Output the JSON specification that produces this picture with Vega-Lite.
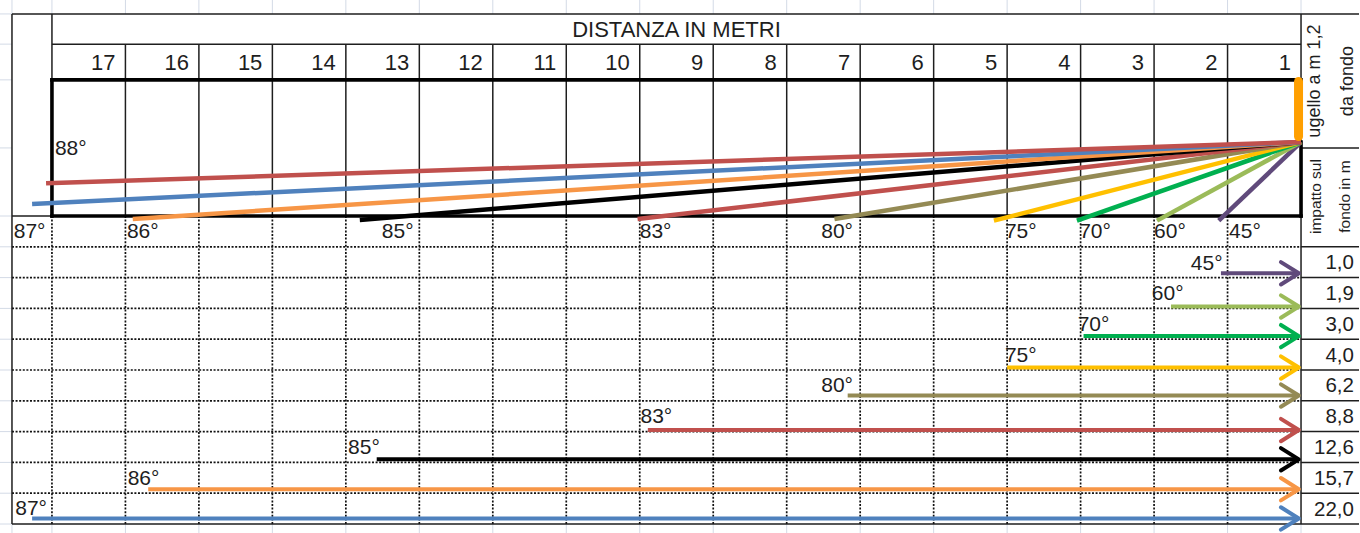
{
  "$schema": "https://vega.github.io/schema/vega-lite/v6.json",
  "width": 1360,
  "height": 533,
  "autosize": {"type": "fit", "contains": "padding"},
  "padding": 0,
  "background": "white",
  "config": {"view": {"stroke": null}, "text": {"font": "Liberation Sans", "fill": "#1e1e1e"}},
  "datasets": {
    "grid": [
      {"k":"faint","x":17.707,"x2":17.544,"y":16.56,"y2":16.56},
      {"k":"faint","x":17.707,"x2":17.544,"y":15.58,"y2":15.58},
      {"k":"faint","x":17.707,"x2":17.544,"y":14.42,"y2":14.42},
      {"k":"faint","x":17.707,"x2":17.544,"y":12.21,"y2":12.21},
      {"k":"faint","x":17.707,"x2":17.544,"y":10,"y2":10},
      {"k":"faint","x":17.707,"x2":17.544,"y":9,"y2":9},
      {"k":"faint","x":17.707,"x2":17.544,"y":8,"y2":8},
      {"k":"faint","x":17.707,"x2":17.544,"y":7,"y2":7},
      {"k":"faint","x":17.707,"x2":17.544,"y":6,"y2":6},
      {"k":"faint","x":17.707,"x2":17.544,"y":5,"y2":5},
      {"k":"faint","x":17.707,"x2":17.544,"y":4,"y2":4},
      {"k":"faint","x":17.707,"x2":17.544,"y":3,"y2":3},
      {"k":"faint","x":17.707,"x2":17.544,"y":2,"y2":2},
      {"k":"faint","x":17.707,"x2":17.544,"y":1,"y2":1},
      {"k":"faint","x":17.707,"x2":17.544,"y":0,"y2":0},
      {"k":"faint","x":17.544,"x2":17.544,"y":17.013,"y2":16.56},
      {"k":"faint","x":17,"x2":17,"y":17.013,"y2":16.56},
      {"k":"faint","x":16,"x2":16,"y":17.013,"y2":16.56},
      {"k":"faint","x":15,"x2":15,"y":17.013,"y2":16.56},
      {"k":"faint","x":14,"x2":14,"y":17.013,"y2":16.56},
      {"k":"faint","x":13,"x2":13,"y":17.013,"y2":16.56},
      {"k":"faint","x":12,"x2":12,"y":17.013,"y2":16.56},
      {"k":"faint","x":11,"x2":11,"y":17.013,"y2":16.56},
      {"k":"faint","x":10,"x2":10,"y":17.013,"y2":16.56},
      {"k":"faint","x":9,"x2":9,"y":17.013,"y2":16.56},
      {"k":"faint","x":8,"x2":8,"y":17.013,"y2":16.56},
      {"k":"faint","x":7,"x2":7,"y":17.013,"y2":16.56},
      {"k":"faint","x":6,"x2":6,"y":17.013,"y2":16.56},
      {"k":"faint","x":5,"x2":5,"y":17.013,"y2":16.56},
      {"k":"faint","x":4,"x2":4,"y":17.013,"y2":16.56},
      {"k":"faint","x":3,"x2":3,"y":17.013,"y2":16.56},
      {"k":"faint","x":2,"x2":2,"y":17.013,"y2":16.56},
      {"k":"faint","x":1,"x2":1,"y":17.013,"y2":16.56},
      {"k":"faint","x":0,"x2":0,"y":17.013,"y2":16.56},
      {"k":"faint","x":17.544,"x2":17.544,"y":0,"y2":-0.292},
      {"k":"faint","x":17,"x2":17,"y":0,"y2":-0.292},
      {"k":"faint","x":16,"x2":16,"y":0,"y2":-0.292},
      {"k":"faint","x":15,"x2":15,"y":0,"y2":-0.292},
      {"k":"faint","x":14,"x2":14,"y":0,"y2":-0.292},
      {"k":"faint","x":13,"x2":13,"y":0,"y2":-0.292},
      {"k":"faint","x":12,"x2":12,"y":0,"y2":-0.292},
      {"k":"faint","x":11,"x2":11,"y":0,"y2":-0.292},
      {"k":"faint","x":10,"x2":10,"y":0,"y2":-0.292},
      {"k":"faint","x":9,"x2":9,"y":0,"y2":-0.292},
      {"k":"faint","x":8,"x2":8,"y":0,"y2":-0.292},
      {"k":"faint","x":7,"x2":7,"y":0,"y2":-0.292},
      {"k":"faint","x":6,"x2":6,"y":0,"y2":-0.292},
      {"k":"faint","x":5,"x2":5,"y":0,"y2":-0.292},
      {"k":"faint","x":4,"x2":4,"y":0,"y2":-0.292},
      {"k":"faint","x":3,"x2":3,"y":0,"y2":-0.292},
      {"k":"faint","x":2,"x2":2,"y":0,"y2":-0.292},
      {"k":"faint","x":1,"x2":1,"y":0,"y2":-0.292},
      {"k":"faint","x":0,"x2":0,"y":0,"y2":-0.292},

      {"k":"dot","x":17.544,"x2":0,"y":9,"y2":9},
      {"k":"dot","x":17.544,"x2":0,"y":8,"y2":8},
      {"k":"dot","x":17.544,"x2":0,"y":7,"y2":7},
      {"k":"dot","x":17.544,"x2":0,"y":6,"y2":6},
      {"k":"dot","x":17.544,"x2":0,"y":5,"y2":5},
      {"k":"dot","x":17.544,"x2":0,"y":4,"y2":4},
      {"k":"dot","x":17.544,"x2":0,"y":3,"y2":3},
      {"k":"dot","x":17.544,"x2":0,"y":2,"y2":2},
      {"k":"dot","x":17.544,"x2":0,"y":1,"y2":1},
      {"k":"dot","x":17,"x2":17,"y":10,"y2":0},
      {"k":"dot","x":16,"x2":16,"y":10,"y2":0},
      {"k":"dot","x":15,"x2":15,"y":10,"y2":0},
      {"k":"dot","x":14,"x2":14,"y":10,"y2":0},
      {"k":"dot","x":13,"x2":13,"y":10,"y2":0},
      {"k":"dot","x":12,"x2":12,"y":10,"y2":0},
      {"k":"dot","x":11,"x2":11,"y":10,"y2":0},
      {"k":"dot","x":10,"x2":10,"y":10,"y2":0},
      {"k":"dot","x":9,"x2":9,"y":10,"y2":0},
      {"k":"dot","x":8,"x2":8,"y":10,"y2":0},
      {"k":"dot","x":7,"x2":7,"y":10,"y2":0},
      {"k":"dot","x":6,"x2":6,"y":10,"y2":0},
      {"k":"dot","x":5,"x2":5,"y":10,"y2":0},
      {"k":"dot","x":4,"x2":4,"y":10,"y2":0},
      {"k":"dot","x":3,"x2":3,"y":10,"y2":0},
      {"k":"dot","x":2,"x2":2,"y":10,"y2":0},
      {"k":"dot","x":1,"x2":1,"y":10,"y2":0},

      {"k":"thin","x":17.544,"x2":-0.789,"y":16.56,"y2":16.56},
      {"k":"thin","x":17,"x2":0,"y":15.58,"y2":15.58},
      {"k":"thin","x":0,"x2":-0.789,"y":12.21,"y2":12.21},
      {"k":"thin","x":17.544,"x2":17,"y":10,"y2":10},
      {"k":"thin","x":0,"x2":-0.789,"y":9,"y2":9},
      {"k":"thin","x":0,"x2":-0.789,"y":8,"y2":8},
      {"k":"thin","x":0,"x2":-0.789,"y":7,"y2":7},
      {"k":"thin","x":0,"x2":-0.789,"y":6,"y2":6},
      {"k":"thin","x":0,"x2":-0.789,"y":5,"y2":5},
      {"k":"thin","x":0,"x2":-0.789,"y":4,"y2":4},
      {"k":"thin","x":0,"x2":-0.789,"y":3,"y2":3},
      {"k":"thin","x":0,"x2":-0.789,"y":2,"y2":2},
      {"k":"thin","x":0,"x2":-0.789,"y":1,"y2":1},
      {"k":"thin","x":17.544,"x2":-0.789,"y":0,"y2":0},
      {"k":"thin","x":17.544,"x2":17.544,"y":16.56,"y2":0},
      {"k":"thin","x":17,"x2":17,"y":16.56,"y2":14.42},
      {"k":"thin","x":16,"x2":16,"y":15.58,"y2":10},
      {"k":"thin","x":15,"x2":15,"y":15.58,"y2":10},
      {"k":"thin","x":14,"x2":14,"y":15.58,"y2":10},
      {"k":"thin","x":13,"x2":13,"y":15.58,"y2":10},
      {"k":"thin","x":12,"x2":12,"y":15.58,"y2":10},
      {"k":"thin","x":11,"x2":11,"y":15.58,"y2":10},
      {"k":"thin","x":10,"x2":10,"y":15.58,"y2":10},
      {"k":"thin","x":9,"x2":9,"y":15.58,"y2":10},
      {"k":"thin","x":8,"x2":8,"y":15.58,"y2":10},
      {"k":"thin","x":7,"x2":7,"y":15.58,"y2":10},
      {"k":"thin","x":6,"x2":6,"y":15.58,"y2":10},
      {"k":"thin","x":5,"x2":5,"y":15.58,"y2":10},
      {"k":"thin","x":4,"x2":4,"y":15.58,"y2":10},
      {"k":"thin","x":3,"x2":3,"y":15.58,"y2":10},
      {"k":"thin","x":2,"x2":2,"y":15.58,"y2":10},
      {"k":"thin","x":1,"x2":1,"y":15.58,"y2":10},
      {"k":"thin","x":0,"x2":0,"y":16.56,"y2":0},

      {"k":"thick","x":17,"x2":0,"y":14.42,"y2":14.42},
      {"k":"thick","x":17,"x2":0,"y":10,"y2":10},
      {"k":"thick","x":17,"x2":17,"y":14.42,"y2":10},
      {"k":"thick","x":0,"x2":0,"y":12.40,"y2":10}
    ],
    "rays": [
      {"a":"45°","x":0,"y":12.40,"x2":1.12,"y2":9.85},
      {"a":"60°","x":0,"y":12.40,"x2":1.96,"y2":9.85},
      {"a":"70°","x":0,"y":12.40,"x2":3.05,"y2":9.85},
      {"a":"75°","x":0,"y":12.40,"x2":4.18,"y2":9.85},
      {"a":"80°","x":0,"y":12.40,"x2":6.35,"y2":9.90},
      {"a":"83°","x":0,"y":12.40,"x2":9.03,"y2":9.90},
      {"a":"85°","x":0,"y":12.40,"x2":12.81,"y2":9.87},
      {"a":"86°","x":0,"y":12.40,"x2":15.90,"y2":9.90},
      {"a":"87°","x":0,"y":12.40,"x2":17.27,"y2":10.39},
      {"a":"88°","x":0,"y":12.40,"x2":17.08,"y2":11.06}
    ],
    "nozzle": [{"x":0.034,"y":14.37,"y2":12.58}],
    "arrows": [
      {"a":"45°","x":0.03,"x2":1.09,"y":8.14},
      {"a":"60°","x":0.03,"x2":1.77,"y":7.06},
      {"a":"70°","x":0.03,"x2":2.96,"y":6.10},
      {"a":"75°","x":0.03,"x2":4.00,"y":5.08},
      {"a":"80°","x":0.03,"x2":6.17,"y":4.17},
      {"a":"83°","x":0.03,"x2":8.89,"y":3.05},
      {"a":"85°","x":0.03,"x2":12.58,"y":2.10},
      {"a":"86°","x":0.03,"x2":15.69,"y":1.13},
      {"a":"87°","x":0.03,"x2":17.27,"y":0.18}
    ],
    "cols": [
      {"n":"17","x":16,"y":14.74},{"n":"16","x":15,"y":14.74},{"n":"15","x":14,"y":14.74},{"n":"14","x":13,"y":14.74},
      {"n":"13","x":12,"y":14.74},{"n":"12","x":11,"y":14.74},{"n":"11","x":10,"y":14.74},{"n":"10","x":9,"y":14.74},
      {"n":"9","x":8,"y":14.74},{"n":"8","x":7,"y":14.74},{"n":"7","x":6,"y":14.74},{"n":"6","x":5,"y":14.74},
      {"n":"5","x":4,"y":14.74},{"n":"4","x":3,"y":14.74},{"n":"3","x":2,"y":14.74},{"n":"2","x":1,"y":14.74},{"n":"1","x":0,"y":14.74}
    ],
    "impact": [
      {"v":"1,0","x":-0.72,"y":8.27},{"v":"1,9","x":-0.72,"y":7.27},{"v":"3,0","x":-0.72,"y":6.27},
      {"v":"4,0","x":-0.72,"y":5.27},{"v":"6,2","x":-0.72,"y":4.27},{"v":"8,8","x":-0.72,"y":3.27},
      {"v":"12,6","x":-0.72,"y":2.27},{"v":"15,7","x":-0.72,"y":1.27},{"v":"22,0","x":-0.72,"y":0.27}
    ],
    "deg": [
      {"t":"88°","x":16.96,"y":11.98},
      {"t":"87°","x":17.52,"y":9.27},
      {"t":"86°","x":15.98,"y":9.27},
      {"t":"85°","x":12.51,"y":9.27},
      {"t":"83°","x":9.00,"y":9.27},
      {"t":"80°","x":6.53,"y":9.27},
      {"t":"75°","x":4.03,"y":9.27},
      {"t":"70°","x":3.02,"y":9.27},
      {"t":"60°","x":2.00,"y":9.27},
      {"t":"45°","x":0.98,"y":9.27},
      {"t":"45°","x":1.50,"y":8.25},
      {"t":"60°","x":2.03,"y":7.27},
      {"t":"70°","x":3.04,"y":6.27},
      {"t":"75°","x":4.03,"y":5.26},
      {"t":"80°","x":6.53,"y":4.29},
      {"t":"83°","x":8.99,"y":3.28},
      {"t":"85°","x":12.97,"y":2.27},
      {"t":"86°","x":15.97,"y":1.27},
      {"t":"87°","x":17.50,"y":0.29}
    ],
    "header": [{"t":"DISTANZA IN METRI","x":8.5,"y":15.81}],
    "sideA": [
      {"t":"ugello a m 1,2","x":-0.19,"y":14.38},
      {"t":"da fondo","x":-0.64,"y":14.38}
    ],
    "sideB": [
      {"t":"impatto sul","x":-0.20,"y":10.63},
      {"t":"fondo in m","x":-0.60,"y":10.63}
    ]
  },
  "encoding": {
    "x": {"field": "x", "type": "quantitative", "scale": {"domain": [-0.789, 17.707], "reverse": true, "nice": false, "zero": false}, "axis": null},
    "y": {"field": "y", "type": "quantitative", "scale": {"domain": [-0.292, 17.013], "nice": false, "zero": false}, "axis": null}
  },
  "layer": [
    {
      "data": {"name": "grid"},
      "transform": [{"filter": "datum.k == 'faint'"}],
      "mark": {"type": "rule", "stroke": "#d3dae6", "strokeWidth": 1, "clip": true},
      "encoding": {"x2": {"field": "x2"}, "y2": {"field": "y2"}}
    },
    {
      "data": {"name": "grid"},
      "transform": [{"filter": "datum.k == 'dot'"}],
      "mark": {"type": "rule", "stroke": "#111111", "strokeWidth": 1.7, "strokeDash": [2, 1.6]},
      "encoding": {"x2": {"field": "x2"}, "y2": {"field": "y2"}}
    },
    {
      "data": {"name": "grid"},
      "transform": [{"filter": "datum.k == 'thin'"}],
      "mark": {"type": "rule", "stroke": "#1e1e1e", "strokeWidth": 1.5},
      "encoding": {"x2": {"field": "x2"}, "y2": {"field": "y2"}}
    },
    {
      "data": {"name": "grid"},
      "transform": [{"filter": "datum.k == 'thick'"}],
      "mark": {"type": "rule", "stroke": "#000000", "strokeWidth": 3.6, "strokeCap": "square"},
      "encoding": {"x2": {"field": "x2"}, "y2": {"field": "y2"}}
    },
    {
      "data": {"name": "rays"},
      "mark": {"type": "rule", "strokeWidth": 4.5, "strokeCap": "butt"},
      "encoding": {
        "x2": {"field": "x2"}, "y2": {"field": "y2"},
        "color": {"field": "a", "type": "nominal", "legend": null,
          "scale": {"domain": ["45°","60°","70°","75°","80°","83°","85°","86°","87°","88°"],
                    "range": ["#604a7b","#9bbb59","#00b050","#ffc000","#948a54","#c0504d","#000000","#f79646","#4f81bd","#c0504d"]}}
      }
    },
    {
      "data": {"name": "nozzle"},
      "mark": {"type": "rule", "stroke": "#ff9f00", "strokeWidth": 9, "strokeCap": "round"},
      "encoding": {"y2": {"field": "y2"}}
    },
    {
      "data": {"name": "arrows"},
      "mark": {"type": "rule", "strokeWidth": 4, "strokeCap": "butt"},
      "encoding": {
        "x2": {"field": "x2"},
        "color": {"field": "a", "type": "nominal", "legend": null}
      }
    },
    {
      "data": {"name": "arrows"},
      "mark": {"type": "point", "shape": "M-1.6,-1L0,0L-1.6,1", "filled": false, "size": 500, "strokeWidth": 4, "opacity": 1, "strokeCap": "round", "strokeJoin": "round"},
      "encoding": {
        "color": {"field": "a", "type": "nominal", "legend": null}
      }
    },
    {
      "data": {"name": "header"},
      "mark": {"type": "text", "fontSize": 22, "align": "center", "baseline": "alphabetic"},
      "encoding": {"text": {"field": "t"}}
    },
    {
      "data": {"name": "cols"},
      "mark": {"type": "text", "fontSize": 22, "align": "right", "baseline": "alphabetic", "dx": -10},
      "encoding": {"text": {"field": "n"}}
    },
    {
      "data": {"name": "impact"},
      "mark": {"type": "text", "fontSize": 20.5, "align": "right", "baseline": "alphabetic"},
      "encoding": {"text": {"field": "v"}}
    },
    {
      "data": {"name": "deg"},
      "mark": {"type": "text", "fontSize": 21, "align": "left", "baseline": "alphabetic"},
      "encoding": {"text": {"field": "t"}}
    },
    {
      "data": {"name": "sideA"},
      "mark": {"type": "text", "fontSize": 18, "align": "center", "baseline": "middle", "angle": 270},
      "encoding": {"text": {"field": "t"}}
    },
    {
      "data": {"name": "sideB"},
      "mark": {"type": "text", "fontSize": 15.5, "align": "center", "baseline": "middle", "angle": 270},
      "encoding": {"text": {"field": "t"}}
    }
  ]
}
